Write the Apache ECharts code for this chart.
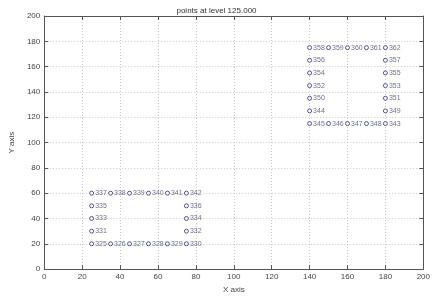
<!DOCTYPE html>
<html>
<head>
<meta charset="utf-8">
<script src="https://cdn.jsdelivr.net/npm/echarts@6/dist/echarts.min.js"></script>
<style>
  html, body { margin: 0; padding: 0; background: #fff; }
  #chart { width: 433px; height: 299px; }
</style>
</head>
<body>
<div id="chart"></div>
<script>
// point ids and their coordinates
var pointIds = [325, 326, 327, 328, 329, 330, 331, 332, 333, 334, 335, 336,
  337, 338, 339, 340, 341, 342,
  343, 344, 345, 346, 347, 348, 349, 350, 351, 352, 353, 354, 355, 356, 357,
  358, 359, 360, 361, 362];
var pointX = [25, 35, 45, 55, 65, 75, 25, 75, 25, 75, 25, 75,
  25, 35, 45, 55, 65, 75,
  180, 140, 140, 150, 160, 170, 180, 140, 180, 140, 180, 140, 180, 140, 180,
  140, 150, 160, 170, 180];
var pointY = [20, 20, 20, 20, 20, 20, 30, 30, 40, 40, 50, 50,
  60, 60, 60, 60, 60, 60,
  115, 125, 115, 115, 115, 115, 125, 135, 135, 145, 145, 155, 155, 165, 165,
  175, 175, 175, 175, 175];

var titleText = 'points at level 125.000';
var xName = 'X axis';
var yName = 'Y axis';

(function () {
  var myChart = echarts.init(document.getElementById('chart'));

  var pts = [];
  for (var i = 0; i < pointIds.length; i++) {
    pts.push({ value: [pointX[i], pointY[i]], name: String(pointIds[i]) });
  }

  var font = 'Liberation Sans, Arial, sans-serif';
  var tickColor = '#555';

  // 底部/左侧为主轴，顶部/右侧只画刻度组成边框
  var mainAxis = function (extra) {
    return Object.assign({
      type: 'value',
      min: 0,
      max: 200,
      interval: 20,
      axisLine: { show: true, onZero: false, lineStyle: { color: tickColor, width: 1 } },
      axisTick: { show: true, inside: true, length: 4, lineStyle: { color: tickColor } },
      axisLabel: { color: '#444', fontSize: 8, fontFamily: font, margin: 4 },
      splitLine: { show: true, lineStyle: { color: '#c8c8c8', type: [1, 2], width: 1 } }
    }, extra);
  };
  var boxAxis = function (extra) {
    return Object.assign({
      type: 'value',
      min: 0,
      max: 200,
      interval: 20,
      axisLine: { show: true, onZero: false, lineStyle: { color: tickColor, width: 1 } },
      axisTick: { show: true, inside: true, length: 4, lineStyle: { color: tickColor } },
      axisLabel: { show: false },
      splitLine: { show: false }
    }, extra);
  };

  var option = {
    animation: false,
    title: {
      text: titleText,
      left: 'center',
      top: 2,
      textStyle: { fontSize: 8, fontWeight: 'normal', color: '#333', fontFamily: font }
    },
    grid: { left: 34, right: 8, top: 16, bottom: 16 },
    xAxis: [
      mainAxis({
        position: 'bottom',
        name: xName,
        nameLocation: 'middle',
        nameGap: 11,
        nameTextStyle: { fontSize: 8, color: '#444', fontFamily: font }
      }),
      boxAxis({ position: 'top' })
    ],
    yAxis: [
      mainAxis({
        position: 'left',
        name: yName,
        nameLocation: 'middle',
        nameGap: 20,
        nameRotate: 90,
        nameTextStyle: { fontSize: 8, color: '#444', fontFamily: font }
      }),
      boxAxis({ position: 'right' })
    ],
    series: [{
      type: 'scatter',
      symbol: 'circle',
      symbolSize: 4,
      itemStyle: { color: '#fff', borderColor: '#2b2b80', borderWidth: 1 },
      label: {
        show: true,
        position: 'right',
        distance: 1,
        formatter: '{b}',
        fontSize: 7,
        color: '#4a4a70',
        fontFamily: font
      },
      data: pts
    }]
  };

  myChart.setOption(option);

  window.addEventListener('resize', function () {
    myChart.resize();
  });
})();
</script>
</body>
</html>
